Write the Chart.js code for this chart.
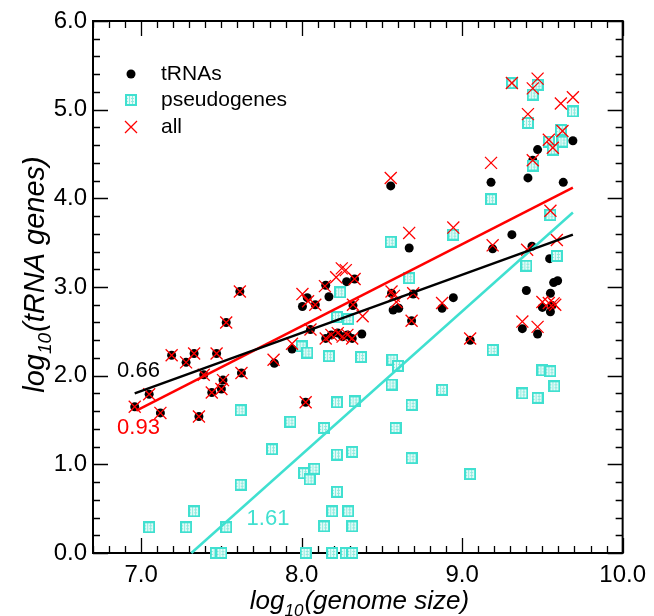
<!DOCTYPE html>
<html>
<head>
<meta charset="utf-8">
<script src="https://cdn.jsdelivr.net/npm/chart.js@4.4.0/dist/chart.umd.min.js"></script>
<style>
  body { margin: 0; background: #fff; }
</style>
</head>
<body>
<canvas id="chart" width="654" height="616"></canvas>
<script>
// values: [log10 genome size, log10 count]
const trnaPoints = [
  [6.96,1.65],[7.05,1.79],[7.12,1.58],[7.19,2.23],[7.28,2.15],[7.33,2.25],[7.36,1.54],[7.39,2.01],
  [7.44,1.81],[7.47,2.25],[7.50,1.85],[7.51,1.95],[7.53,2.60],[7.615,2.95],[7.625,2.03],[7.83,2.14],
  [7.94,2.30],[8.005,2.78],[8.035,2.88],[8.025,1.70],[8.055,2.52],[8.085,2.80],[8.15,3.02],[8.17,2.89],
  [8.28,3.06],[8.33,3.09],[8.32,2.79],[8.15,2.42],[8.185,2.46],[8.225,2.48],[8.255,2.44],[8.285,2.46],
  [8.315,2.42],[8.375,2.47],[8.555,4.14],[8.56,2.93],[8.57,2.74],[8.605,2.76],[8.67,3.44],[8.695,2.92],
  [8.685,2.62],[8.875,2.76],[8.945,2.88],[9.05,2.40],[9.18,4.18],[9.19,3.43],[9.31,3.59],[9.375,2.53],
  [9.40,2.96],[9.41,4.23],[9.435,3.46],[9.44,4.43],[9.47,4.55],[9.47,2.47],[9.50,2.77],[9.545,3.32],
  [9.55,2.93],[9.55,2.72],[9.56,2.79],[9.57,3.05],[9.595,3.07],[9.63,4.18],[9.69,4.65]
]
const pseudoPoints = [
  [7.05,0.29],[7.28,0.29],[7.33,0.47],[7.53,0.29],[7.465,0],[7.50,0],[7.62,1.61],[7.62,0.77],
  [7.815,1.17],[7.93,1.48],[8.015,0.90],[8.08,0.95],[8.05,0.83],[8.14,1.41],[8.22,1.70],[8.33,1.71],
  [8.22,1.11],[8.315,1.14],[8.22,0.69],[8.19,0.47],[8.29,0.47],[8.14,0.30],[8.315,0.30],[8.025,0],
  [8.19,0],[8.275,0],[8.315,0],[8.00,2.33],[8.035,2.26],[8.17,2.22],[8.37,2.21],[8.24,2.94],
  [8.22,2.66],[8.29,2.64],[8.555,3.51],[8.67,3.10],[8.945,3.59],[9.18,3.99],[9.55,3.81],[9.40,3.24],
  [9.59,3.35],[9.19,2.29],[8.565,2.18],[8.60,2.11],[8.56,1.90],[8.875,1.84],[9.375,1.80],[9.47,1.75],
  [9.50,2.06],[9.55,2.05],[9.575,1.88],[8.685,1.67],[8.585,1.41],[8.685,1.07],[9.05,0.89],[9.31,5.30],
  [9.47,5.28],[9.44,5.17],[9.69,4.98],[9.41,4.85],[9.615,4.77],[9.625,4.64],[9.54,4.64],[9.565,4.55],
  [9.44,4.37]
]
const allPoints = [
  [6.96,1.65],[7.05,1.79],[7.12,1.58],[7.19,2.23],[7.28,2.15],[7.33,2.25],[7.36,1.54],[7.39,2.01],
  [7.44,1.81],[7.47,2.25],[7.50,1.85],[7.51,1.95],[7.53,2.60],[7.615,2.95],[7.625,2.03],[7.825,2.18],
  [7.94,2.36],[8.005,2.92],[8.04,2.84],[8.025,1.70],[8.055,2.52],[8.085,2.80],[8.145,3.01],[8.215,3.11],
  [8.25,3.21],[8.275,3.19],[8.33,3.09],[8.32,2.80],[8.38,2.67],[8.15,2.42],[8.185,2.46],[8.225,2.48],
  [8.255,2.44],[8.285,2.46],[8.315,2.42],[8.555,4.23],[8.56,2.95],[8.575,2.90],[8.59,2.83],[8.67,3.61],
  [8.695,2.93],[8.685,2.62],[8.875,2.82],[8.945,3.67],[9.05,2.42],[9.18,4.40],[9.19,3.47],[9.31,5.30],
  [9.375,2.61],[9.405,3.42],[9.41,4.95],[9.44,5.24],[9.44,4.43],[9.47,5.35],[9.47,2.55],[9.50,2.83],
  [9.54,2.82],[9.54,4.66],[9.565,4.57],[9.55,3.86],[9.57,2.815],[9.58,2.80],[9.59,3.53],[9.615,5.07],
  [9.625,4.76],[9.69,5.14]
]
// fitted lines, end points as drawn
const trnaFit = [[6.96,1.80],[9.69,3.59]]
const allFit = [[6.97,1.605],[9.69,4.12]]
const pseudoFit = [[7.313,0],[9.69,3.84]]
// slope labels: [text, x, y]
const slopeLabels = [["0.66",6.85,2.05],["0.93",6.85,1.41],["1.61",7.657,0.38]]

const xTicks = [7, 8, 9, 10]
const yTicks = [0, 1, 2, 3, 4, 5, 6]
const seriesNames = ["tRNAs", "pseudogenes", "all"]

const CYAN = "#40E0D0"
const RED = "#FF0000"
const FONT = "'Liberation Sans', Arial, sans-serif"

function makeSquare() {
    let c = document.createElement("canvas")
    c.width = 12; c.height = 12
    let g = c.getContext("2d")
    g.fillStyle = CYAN
    g.fillRect(0, 0, 12, 12)
    g.fillStyle = "#e6fbf8"
    g.fillRect(2, 2, 8, 8)
    g.fillStyle = "#8eeade"
    for (let i = 0; i < 8; i++) {
        g.fillRect(4, 2 + i, 1, 1)
        g.fillRect(7, 2 + i, 1, 1)
        if (i % 2 == 0) { g.fillRect(2 + i, 4, 1, 1); g.fillRect(2 + i, 7, 1, 1) }
    }
    return c
}
const squareImg = makeSquare()

const toXY = p => ({ x: p[0], y: p[1] })

const frameTicks = {
    id: "frameTicks",
    beforeDatasetsDraw(chart) {
        let { ctx, chartArea: a, scales: { x, y } } = chart
        ctx.save()
        ctx.strokeStyle = "#000"
        ctx.lineWidth = 1.3
        ctx.beginPath()
        for (let i = 67; i <= 100; i++) {
            let px = Math.round(x.getPixelForValue(i / 10)) + 0.5
            let len = (i % 10 === 0) ? 15 : 7
            ctx.moveTo(px, a.bottom); ctx.lineTo(px, a.bottom - len)
            ctx.moveTo(px, a.top); ctx.lineTo(px, a.top + len)
        }
        for (let i = 0; i <= 30; i++) {
            let py = Math.round(y.getPixelForValue(i * 0.2)) + 0.5
            let len = (i % 5 === 0) ? 15 : 7
            ctx.moveTo(a.left, py); ctx.lineTo(a.left + len, py)
            ctx.moveTo(a.right, py); ctx.lineTo(a.right - len, py)
        }
        ctx.stroke()
        ctx.lineWidth = 2
        ctx.strokeRect(a.left, a.top, a.right - a.left, a.bottom - a.top)
        ctx.restore()
    },
    afterDraw(chart) {
        let { ctx, scales: { x, y } } = chart
        ctx.save()
        // slope labels
        ctx.font = "22px " + FONT
        ctx.textBaseline = "middle"
        ctx.textAlign = "left"
        let colors = ["#000", RED, CYAN]
        slopeLabels.forEach((s, i) => {
            ctx.fillStyle = colors[i]
            ctx.fillText(s[0], x.getPixelForValue(s[1]), y.getPixelForValue(s[2]))
        })
        // legend
        ctx.fillStyle = "#000"
        ctx.beginPath(); ctx.arc(131, 74, 4.5, 0, Math.PI * 2); ctx.fill()
        ctx.drawImage(squareImg, 125, 94)
        ctx.strokeStyle = RED; ctx.lineWidth = 1.3
        ctx.beginPath()
        ctx.moveTo(125, 121); ctx.lineTo(137, 133)
        ctx.moveTo(137, 121); ctx.lineTo(125, 133)
        ctx.stroke()
        ctx.fillStyle = "#000"
        ctx.font = "21px " + FONT
        seriesNames.forEach((n, i) => ctx.fillText(n, 161, 74 + i * 26.5))
        // axis titles with subscript
        drawTitle(ctx, "(genome size)", 359, 600, 0, 26)
        drawTitle(ctx, "(tRNA genes)", 34, 275, -Math.PI / 2, 29)
        ctx.restore()
    }
}

function drawTitle(ctx, rest, cx, cy, rot, size) {
    let big = "italic " + size + "px " + FONT
    let small = "italic " + Math.round(size * 0.66) + "px " + FONT
    ctx.save()
    ctx.translate(cx, cy)
    ctx.rotate(rot)
    ctx.fillStyle = "#000"
    ctx.textBaseline = "alphabetic"
    ctx.textAlign = "left"
    ctx.font = big
    let w1 = ctx.measureText("log").width
    let w3 = ctx.measureText(rest).width
    ctx.font = small
    let w2 = ctx.measureText("10").width
    let x0 = -(w1 + w2 + w3) / 2
    let base = size * 0.35
    ctx.font = big
    ctx.fillText("log", x0, base)
    ctx.font = small
    ctx.fillText("10", x0 + w1, base + size * 0.25)
    ctx.font = big
    ctx.fillText(rest, x0 + w1 + w2 + 1, base)
    ctx.restore()
}

const ctx = document.getElementById("chart").getContext("2d")
const chart = new Chart(ctx, {
    type: "scatter",
    data: {
        datasets: [
            { label: "tRNA fit", data: trnaFit.map(toXY), showLine: true, borderColor: "#000", borderWidth: 2.5, pointRadius: 0, order: 0 },
            { label: "all fit", data: allFit.map(toXY), showLine: true, borderColor: RED, borderWidth: 2.5, pointRadius: 0, order: 0 },
            { label: "pseudo fit", data: pseudoFit.map(toXY), showLine: true, borderColor: CYAN, borderWidth: 2.5, pointRadius: 0, order: 0 },
            { label: "all", data: allPoints.map(toXY), pointStyle: "crossRot", pointRadius: 8.5, borderColor: RED, borderWidth: 1.3, backgroundColor: RED, order: 1 },
            { label: "pseudogenes", data: pseudoPoints.map(toXY), pointStyle: squareImg, order: 2 },
            { label: "tRNAs", data: trnaPoints.map(toXY), pointStyle: "circle", pointRadius: 4.5, backgroundColor: "#000", borderWidth: 0, order: 3 }
        ]
    },
    options: {
        responsive: false,
        animation: false,
        devicePixelRatio: 1,
        clip: false,
        layout: { padding: { left: 0, top: 21, right: 28, bottom: 0 } },
        plugins: { legend: { display: false }, tooltip: { enabled: false } },
        scales: {
            x: {
                type: "linear", min: 6.7, max: 10,
                grid: { display: false, drawTicks: false },
                border: { display: false },
                afterBuildTicks: s => { s.ticks = xTicks.map(v => ({ value: v })) },
                afterFit: s => { s.height = 63 },
                ticks: { color: "#000", padding: 8, maxRotation: 0, font: { family: FONT, size: 24 }, callback: v => v.toFixed(1) }
            },
            y: {
                type: "linear", min: 0, max: 6,
                grid: { display: false, drawTicks: false },
                border: { display: false },
                afterBuildTicks: s => { s.ticks = yTicks.map(v => ({ value: v })) },
                afterFit: s => { s.width = 93 },
                ticks: { color: "#000", padding: 6, font: { family: FONT, size: 24 }, callback: v => v.toFixed(1) }
            }
        }
    },
    plugins: [frameTicks]
})
</script>
</body>
</html>
